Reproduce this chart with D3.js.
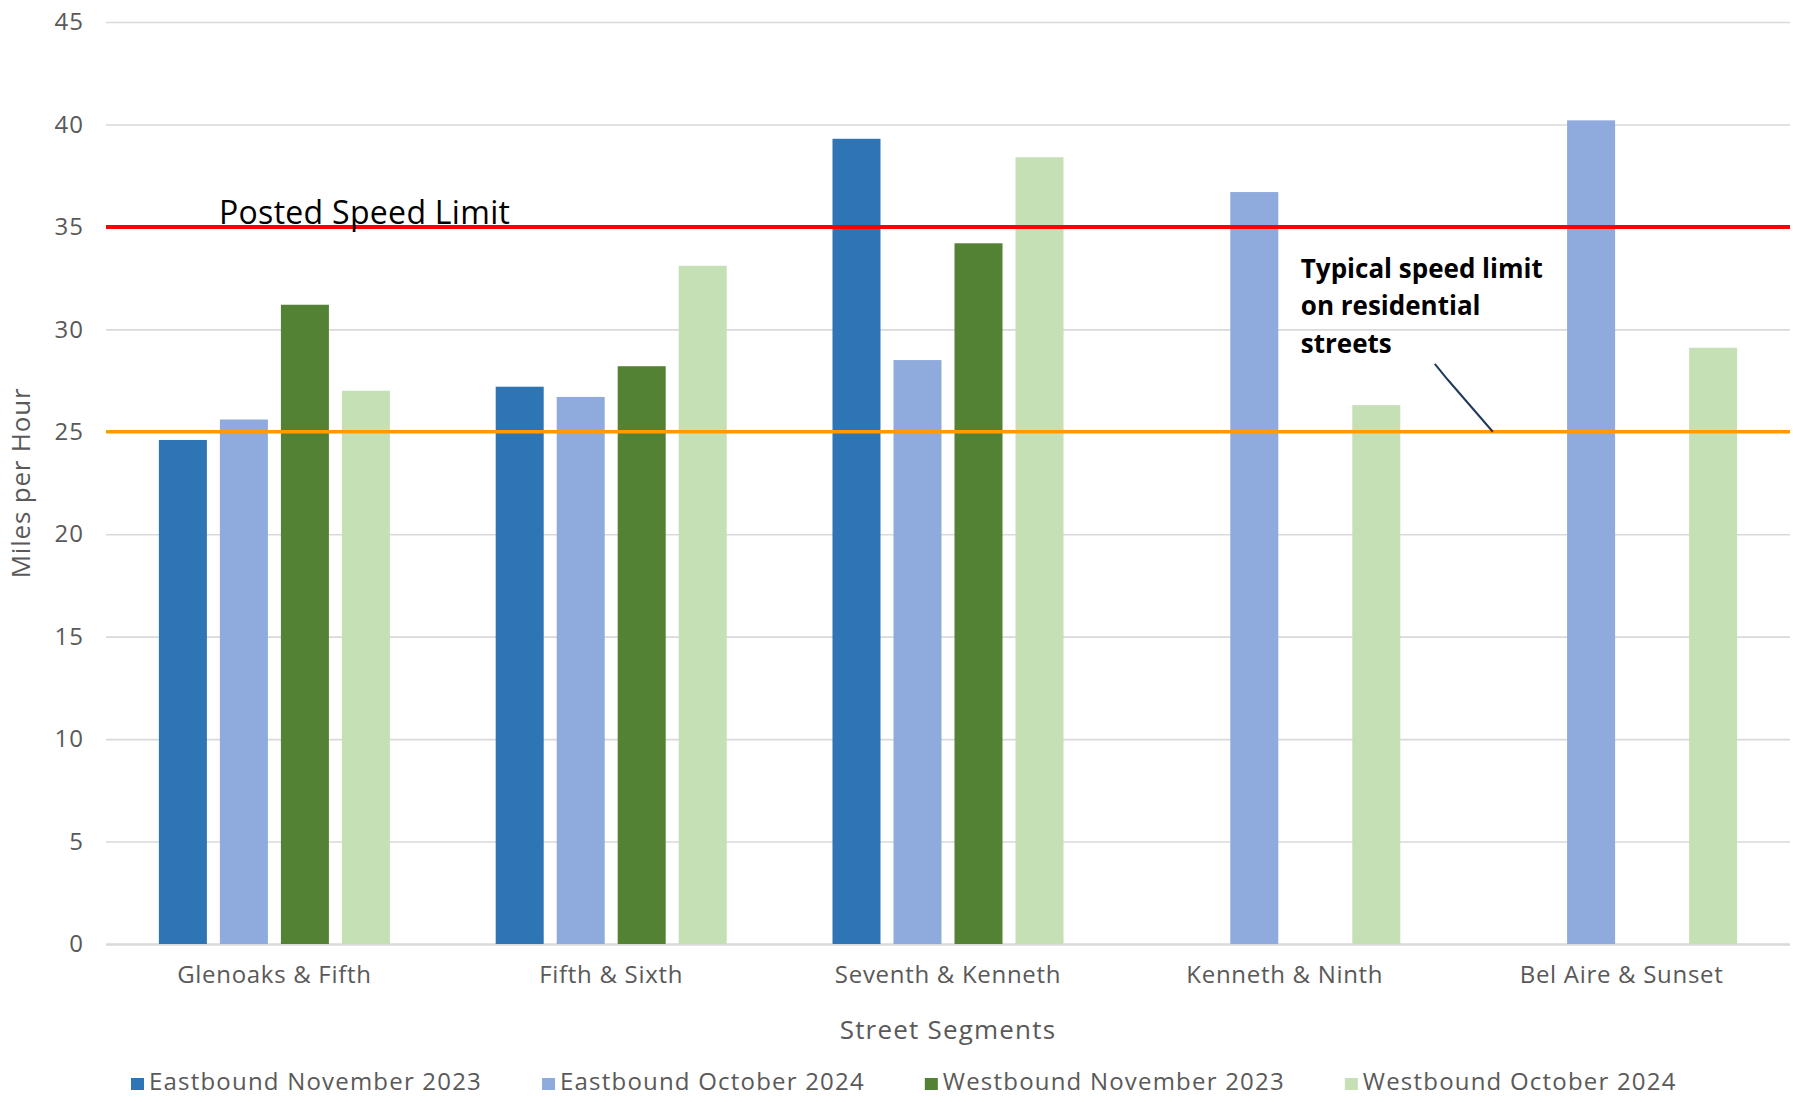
<!DOCTYPE html>
<html>
<head>
<meta charset="utf-8">
<script src="https://cdn.jsdelivr.net/npm/d3@7"></script>
<style>
  body { margin: 0; background: #fff; }
  svg { display: block; }
  .tick text { font-family: "Open Sans", sans-serif; fill: #595959; }
</style>
</head>
<body>
<svg id="chart" width="1793" height="1102"></svg>
<script>

// ---------------------------
// DATA
// ---------------------------

const segments = ["Glenoaks & Fifth", "Fifth & Sixth", "Seventh & Kenneth", "Kenneth & Ninth", "Bel Aire & Sunset"];

const seriesNames = ["Eastbound November 2023", "Eastbound October 2024", "Westbound November 2023", "Westbound October 2024"];

const eastboundNov2023 = [24.6, 27.2, 39.3, null, null];
const eastboundOct2024 = [25.6, 26.7, 28.5, 36.7, 40.2];
const westboundNov2023 = [31.2, 28.2, 34.2, null, null];
const westboundOct2024 = [27.0, 33.1, 38.4, 26.3, 29.1];

const yTicks = [0, 5, 10, 15, 20, 25, 30, 35, 40, 45];

const postedLimit = 35;
const residentialLimit = 25;

const seriesColors = ["#2E75B6", "#8FAADC", "#548235", "#C5E0B4"];


// ---------------------------
// SETUP
// ---------------------------

const svg = d3.select("#chart");

const plotLeft = 106, plotRight = 1790, plotTop = 22, plotBottom = 944;
const innerWidth = plotRight - plotLeft;

const valuesBySeries = [eastboundNov2023, eastboundOct2024, westboundNov2023, westboundOct2024];

// flat table for the bars
const bars = [];
segments.forEach((seg, i) => {
    seriesNames.forEach((name, j) => {
        const v = valuesBySeries[j][i];
        if (v != null) bars.push({ segment: seg, series: name, value: v });
    });
});

const x0 = d3.scaleBand()
    .domain(segments)
    .range([plotLeft, plotRight]);

const x1 = d3.scaleBand()
    .domain(seriesNames)
    .range([0, x0.bandwidth()])
    .paddingInner(0.213)
    .paddingOuter(0.867);

const yScale = d3.scaleLinear()
    .domain([0, 45])
    .range([plotBottom, plotTop]);

const color = d3.scaleOrdinal()
    .domain(seriesNames)
    .range(seriesColors);


// ---------------------------
// AXES + GRID
// ---------------------------

const yAxis = svg.append("g")
    .attr("transform", `translate(${plotLeft},0)`)
    .call(d3.axisLeft(yScale)
        .tickValues(yTicks)
        .tickSize(-innerWidth)
        .tickPadding(22));

yAxis.select(".domain").remove();
yAxis.selectAll(".tick line")
    .attr("stroke", "#d9d9d9")
    .attr("stroke-width", d => d === 0 ? 2.5 : 1.6);
yAxis.selectAll(".tick text")
    .attr("font-size", "24px")
    .attr("letter-spacing", "1px");

const xAxis = svg.append("g")
    .attr("transform", `translate(0,${plotBottom})`)
    .call(d3.axisBottom(x0).tickSize(0).tickPadding(22));

xAxis.select(".domain").remove();
xAxis.selectAll(".tick text")
    .attr("font-size", "24px")
    .attr("letter-spacing", "0.7px");

// axis titles
svg.append("text")
    .attr("transform", `translate(30,${(plotTop + plotBottom) / 2}) rotate(-90)`)
    .attr("text-anchor", "middle")
    .attr("font-family", "Open Sans, sans-serif")
    .attr("font-size", "26px")
    .attr("letter-spacing", "0.8px")
    .attr("fill", "#595959")
    .text("Miles per Hour");

svg.append("text")
    .attr("x", plotLeft + innerWidth / 2)
    .attr("y", 1039)
    .attr("text-anchor", "middle")
    .attr("font-family", "Open Sans, sans-serif")
    .attr("font-size", "26px")
    .attr("letter-spacing", "1.2px")
    .attr("fill", "#595959")
    .text("Street Segments");


// ---------------------------
// BARS
// ---------------------------

svg.append("g")
    .selectAll("rect")
    .data(bars)
    .join("rect")
    .attr("x", d => x0(d.segment) + x1(d.series))
    .attr("y", d => yScale(d.value))
    .attr("width", x1.bandwidth())
    .attr("height", d => plotBottom - yScale(d.value))
    .attr("fill", d => color(d.series));


// ---------------------------
// REFERENCE LINES
// ---------------------------

svg.append("line")
    .attr("x1", plotLeft).attr("x2", plotRight)
    .attr("y1", yScale(postedLimit)).attr("y2", yScale(postedLimit))
    .attr("stroke", "#ff0000")
    .attr("stroke-width", 4);

svg.append("line")
    .attr("x1", plotLeft).attr("x2", plotRight)
    .attr("y1", yScale(residentialLimit)).attr("y2", yScale(residentialLimit))
    .attr("stroke", "#ff9a00")
    .attr("stroke-width", 3.5);

svg.append("text")
    .attr("x", plotLeft + 113)
    .attr("y", yScale(postedLimit) - 3)
    .attr("font-family", "Open Sans, sans-serif")
    .attr("font-size", "32px")
    .attr("letter-spacing", "0.3px")
    .attr("fill", "#000")
    .text("Posted Speed Limit");

// annotation for the residential line
const noteX = x0("Kenneth & Ninth") + x0.bandwidth() / 2 + 16;
const note = svg.append("text")
    .attr("font-family", "Open Sans, sans-serif")
    .attr("font-size", "26px")
    .attr("font-weight", 700)
    .attr("fill", "#000");

["Typical speed limit", "on residential", "streets"].forEach((line, i) => {
    note.append("tspan")
        .attr("x", noteX)
        .attr("y", yScale(postedLimit) + 51 + i * 37.5)
        .text(line);
});

const leader = d3.path();
leader.moveTo(noteX + 134, yScale(residentialLimit) - 68);
leader.lineTo(noteX + 147, yScale(residentialLimit) - 52);
leader.lineTo(noteX + 192, yScale(residentialLimit));
svg.append("path")
    .attr("d", leader.toString())
    .attr("fill", "none")
    .attr("stroke", "#1f3a5a")
    .attr("stroke-width", 2);


// ---------------------------
// LEGEND
// ---------------------------

const legend = svg.append("g")
    .attr("transform", "translate(131,1090)");

let legendX = 0;
seriesNames.forEach(name => {
    const item = legend.append("g")
        .attr("transform", `translate(${legendX},0)`);

    item.append("rect")
        .attr("x", 0)
        .attr("y", -12)
        .attr("width", 13)
        .attr("height", 12)
        .attr("fill", color(name));

    const label = item.append("text")
        .attr("x", 18)
        .attr("y", 0)
        .attr("font-family", "Open Sans, sans-serif")
        .attr("font-size", "24px")
        .attr("letter-spacing", "1.2px")
        .attr("fill", "#595959")
        .text(name);

    legendX += 18 + label.node().getComputedTextLength() + 60;
});

</script>
</body>
</html>
